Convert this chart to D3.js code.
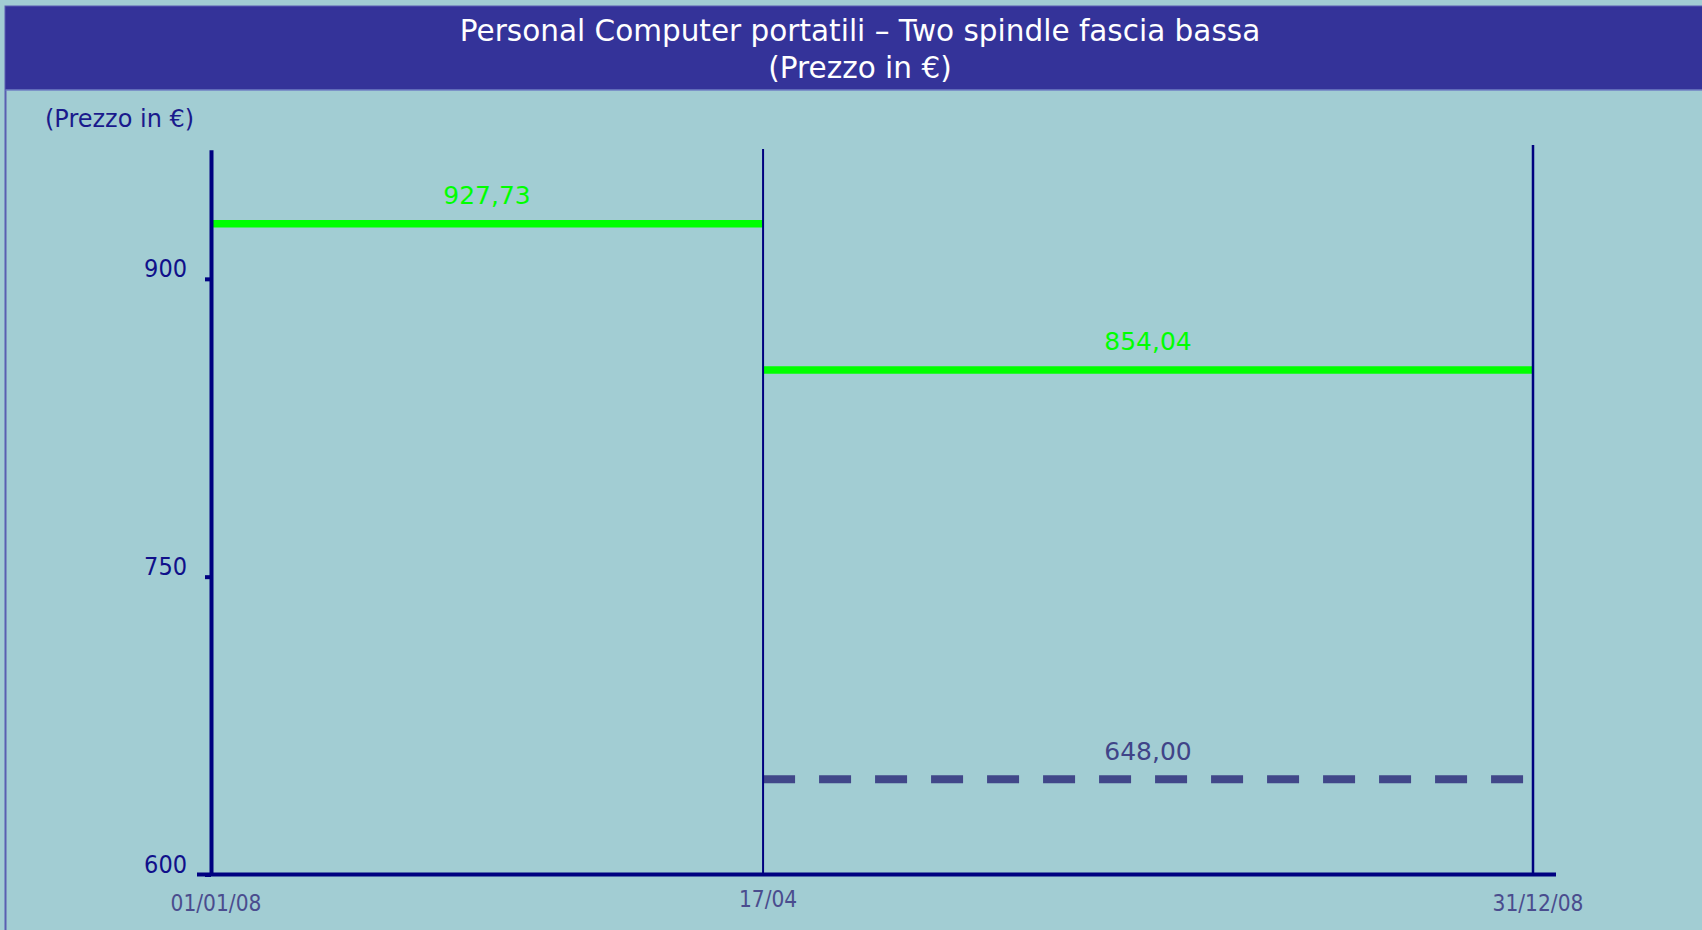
<!DOCTYPE html>
<html lang="it">
<head>
<meta charset="utf-8">
<title>Personal Computer portatili – Two spindle fascia bassa</title>
<script src="https://cdn.jsdelivr.net/npm/d3@7/dist/d3.min.js"></script>
<style>
  html, body { margin: 0; padding: 0; background: #a2cdd3; }
  svg { display: block; }
  .cond { font-family: "DejaVu Sans Condensed", "DejaVu Sans", sans-serif; font-stretch: condensed; }
  .sans { font-family: "DejaVu Sans", Verdana, sans-serif; }
</style>
</head>
<body>
<svg id="chart" width="1702" height="930"></svg>
<script>
// Period boundaries shown on the time axis
const dateLabels = ["01/01/08", "17/04", "31/12/08"];
const dateValues = [new Date(2008, 0, 1), new Date(2008, 3, 17), new Date(2008, 11, 31)];

// Average price per period (solid green steps)
const avgFrom  = [0, 1];
const avgTo    = [1, 2];
const avgPrice = [927.73, 854.04];

// Reference price for the second period (dashed)
const refFrom  = [1];
const refTo    = [2];
const refPrice = [648.00];

// Value axis
const yTicks = [600, 750, 900];
const yDomain = [600, 965];

const titleLines = ["Personal Computer portatili – Two spindle fascia bassa", "(Prezzo in €)"];
const yAxisTitle = "(Prezzo in €)";

const W = 1702, H = 930;
const plot = { left: 211, right: 1533, top: 149, bottom: 874.5 };
const plotW = plot.right - plot.left;

const it = d3.formatLocale({ decimal: ",", thousands: ".", grouping: [3], currency: ["", " €"] });
const fmt = it.format(".2f");

const svg = d3.select("#chart");

// Frame and title band
svg.append("rect").attr("x", 0).attr("y", 0).attr("width", W).attr("height", H).attr("fill", "#a2cdd3");
svg.append("rect").attr("x", 5.5).attr("y", 6.5).attr("width", W + 10).attr("height", H + 10)
  .attr("fill", "#a2cdd3").attr("stroke", "#5a5fb2").attr("stroke-width", 2);
svg.append("rect").attr("x", 5.5).attr("y", 6.5).attr("width", W + 10).attr("height", 83.5)
  .attr("fill", "#343399");
svg.append("line").attr("x1", 5.5).attr("x2", W).attr("y1", 90).attr("y2", 90)
  .attr("stroke", "#6f7fc4").attr("stroke-width", 1.5);

svg.selectAll("text.title").data(titleLines).join("text")
  .attr("class", "title sans")
  .attr("x", 860)
  .attr("y", (d, i) => i === 0 ? 41 : 78)
  .attr("text-anchor", "middle")
  .attr("fill", "#ffffff")
  .attr("font-size", 29.5)
  .text(d => d);

// Scales: the first period spans about 42% of the plot width
const x = d3.scaleTime()
  .domain(dateValues)
  .range([plot.left, plot.left + plotW * 0.4176, plot.right]);

const y = d3.scaleLinear()
  .domain(yDomain)
  .range([plot.bottom, plot.bottom - (yDomain[1] - yDomain[0]) * 1.9855]);

// Average price steps
svg.append("g").selectAll("line").data(avgPrice).join("line")
  .attr("x1", (d, i) => x(dateValues[avgFrom[i]]))
  .attr("x2", (d, i) => x(dateValues[avgTo[i]]))
  .attr("y1", d => y(d))
  .attr("y2", d => y(d))
  .attr("stroke", "#00ff00")
  .attr("stroke-width", 7.5);

// Reference price (dashed)
svg.append("g").selectAll("line").data(refPrice).join("line")
  .attr("x1", (d, i) => x(dateValues[refFrom[i]]))
  .attr("x2", (d, i) => x(dateValues[refTo[i]]))
  .attr("y1", d => y(d))
  .attr("y2", d => y(d))
  .attr("stroke", "#414789")
  .attr("stroke-width", 8)
  .attr("stroke-dasharray", "32 24");

// Vertical period separators
svg.append("g").selectAll("line").data(dateValues.slice(1)).join("line")
  .attr("x1", d => x(d)).attr("x2", d => x(d))
  .attr("y1", (d, i) => i === 0 ? plot.top : plot.top - 4)
  .attr("y2", plot.bottom)
  .attr("stroke", "#00007f")
  .attr("stroke-width", (d, i) => i === 0 ? 2 : 2.5);

// Value axis
const yAxis = svg.append("g")
  .attr("transform", `translate(${plot.left},0)`)
  .call(d3.axisLeft(y).tickValues(yTicks).tickSize(6).tickSizeOuter(0).tickPadding(18).tickFormat(d3.format("d")));
yAxis.select(".domain").attr("stroke", "#000080").attr("stroke-width", 4);
yAxis.selectAll(".tick line").attr("stroke", "#000080").attr("stroke-width", 4);
yAxis.selectAll(".tick text")
  .attr("class", "cond")
  .attr("fill", "#10108a")
  .attr("font-size", 25)
  .attr("dy", -2);

// Time axis baseline
svg.append("line")
  .attr("x1", plot.left - 14).attr("x2", plot.right + 23)
  .attr("y1", plot.bottom).attr("y2", plot.bottom)
  .attr("stroke", "#000080").attr("stroke-width", 4);

svg.append("g").selectAll("text").data(dateLabels).join("text")
  .attr("class", "cond")
  .attr("x", (d, i) => x(dateValues[i]) + 5)
  .attr("y", (d, i) => i === 1 ? 907 : 911)
  .attr("text-anchor", "middle")
  .attr("fill", "#4a4c8e")
  .attr("font-size", 22.5)
  .text(d => d);

// Value axis title
svg.append("text")
  .attr("class", "sans")
  .attr("x", 45).attr("y", 127)
  .attr("fill", "#1a1a8c")
  .attr("font-size", 24)
  .text(yAxisTitle);

// Price labels above each step
svg.append("g").selectAll("text").data(avgPrice).join("text")
  .attr("class", "sans")
  .attr("x", (d, i) => (x(dateValues[avgFrom[i]]) + x(dateValues[avgTo[i]])) / 2)
  .attr("y", d => y(d) - 20)
  .attr("text-anchor", "middle")
  .attr("fill", "#00ff00")
  .attr("font-size", 25)
  .text(d => fmt(d));

svg.append("g").selectAll("text").data(refPrice).join("text")
  .attr("class", "sans")
  .attr("x", (d, i) => (x(dateValues[refFrom[i]]) + x(dateValues[refTo[i]])) / 2)
  .attr("y", d => y(d) - 19)
  .attr("text-anchor", "middle")
  .attr("fill", "#404488")
  .attr("font-size", 25)
  .text(d => fmt(d));
</script>
</body>
</html>
